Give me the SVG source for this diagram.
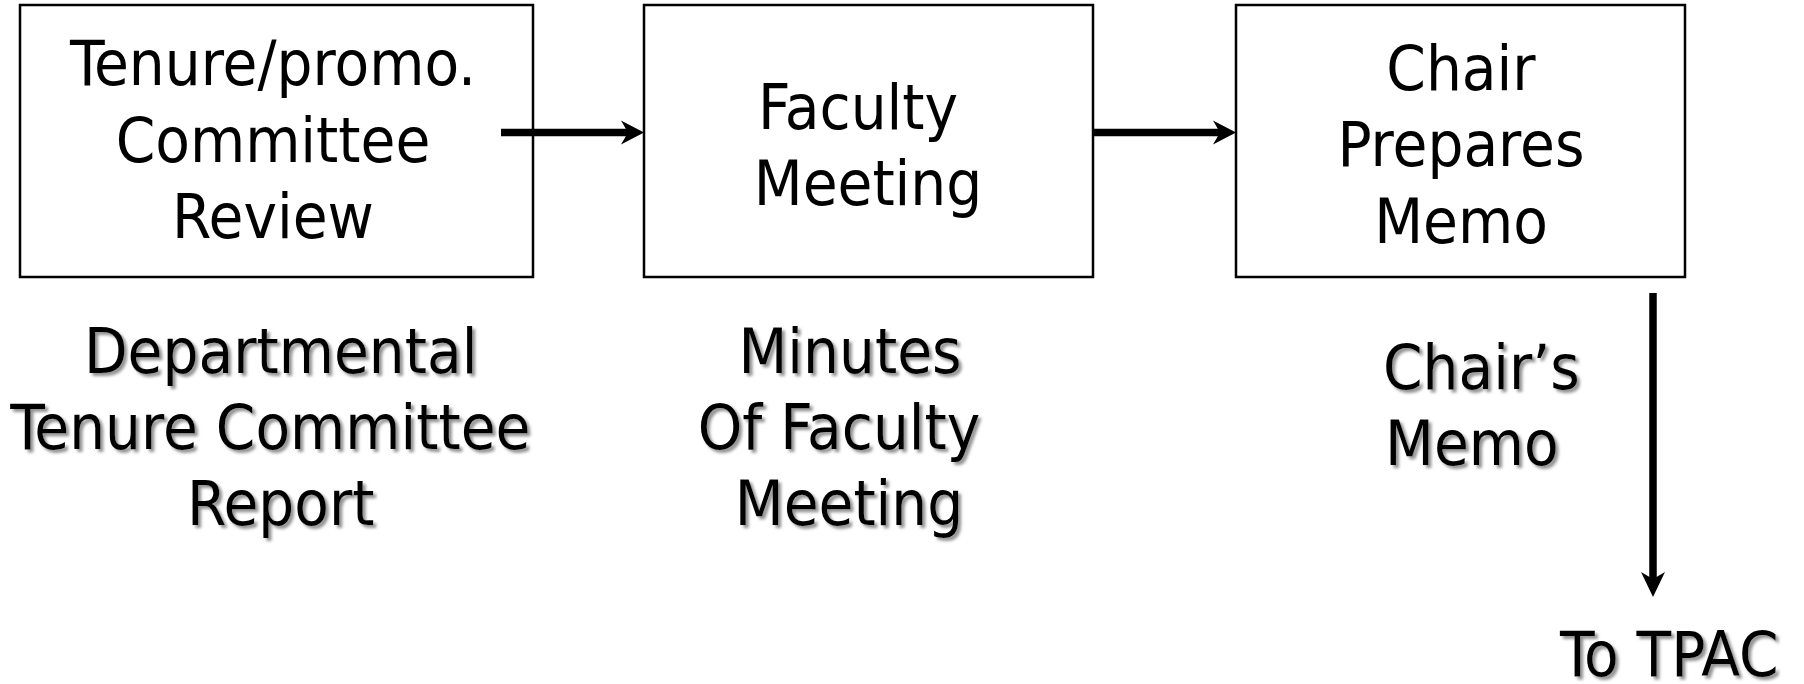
<svg xmlns="http://www.w3.org/2000/svg" width="1804" height="684" viewBox="0 0 1804 684">
<style>
.box{fill:#fff;stroke:#000;stroke-width:2.5}
.t{font-family:"DejaVu Sans Condensed","DejaVu Sans",sans-serif;font-size:63px;fill:#000;text-anchor:middle}
.s{filter:url(#sh)}
.con{stroke:#000;stroke-width:7.5;fill:none}
.head{fill:#000}
</style>
<defs>
<filter id="sh" x="-10%" y="-10%" width="120%" height="130%">
<feDropShadow dx="3" dy="3" stdDeviation="1.5" flood-color="#777" flood-opacity="0.8"/>
</filter>
</defs>
<rect width="1804" height="684" fill="#fff"/>
<g id="node-committee-review">
<rect class="box" x="20" y="5" width="513" height="272"/>
<text class="t" x="273" y="85">Tenure/promo.</text>
<text class="t" x="273" y="161.5">Committee</text>
<text class="t" x="273" y="238">Review</text>
</g>
<g id="node-faculty-meeting">
<rect class="box" x="644" y="5" width="449" height="272"/>
<text class="t" x="858" y="128.5">Faculty</text>
<text class="t" x="868" y="204.5">Meeting</text>
</g>
<g id="node-chair-memo">
<rect class="box" x="1236" y="5" width="449" height="272"/>
<text class="t" x="1461" y="89.5">Chair</text>
<text class="t" x="1461" y="166">Prepares</text>
<text class="t" x="1461" y="242.5">Memo</text>
</g>
<g id="connectors">
<line class="con" x1="501" y1="132.5" x2="630" y2="132.5"/>
<polygon class="head" points="644,132.5 621,120.5 628,132.5 621,144.5"/>
<line class="con" x1="1093" y1="132.5" x2="1222" y2="132.5"/>
<polygon class="head" points="1236,132.5 1213,120.5 1220,132.5 1213,144.5"/>
<line class="con" x1="1653" y1="293" x2="1653" y2="583"/>
<polygon class="head" points="1653,597 1641,572 1653,579 1665,572"/>
</g>
<g id="label-report" class="s">
<text class="t" x="280.7" y="373">Departmental</text>
<text class="t" x="270.4" y="449">Tenure Committee</text>
<text class="t" x="280.7" y="525">Report</text>
</g>
<g id="label-minutes" class="s">
<text class="t" x="850" y="373">Minutes</text>
<text class="t" x="839" y="449">Of Faculty</text>
<text class="t" x="849" y="525">Meeting</text>
</g>
<g id="label-chair-memo" class="s">
<text class="t" x="1383" y="388.5" style="text-anchor:start">Chair’s</text>
<text class="t" x="1385" y="464.5" style="text-anchor:start">Memo</text>
</g>
<g id="node-tpac" class="s">
<text class="t" x="1560" y="676" style="text-anchor:start">To TPAC</text>
</g>
</svg>
